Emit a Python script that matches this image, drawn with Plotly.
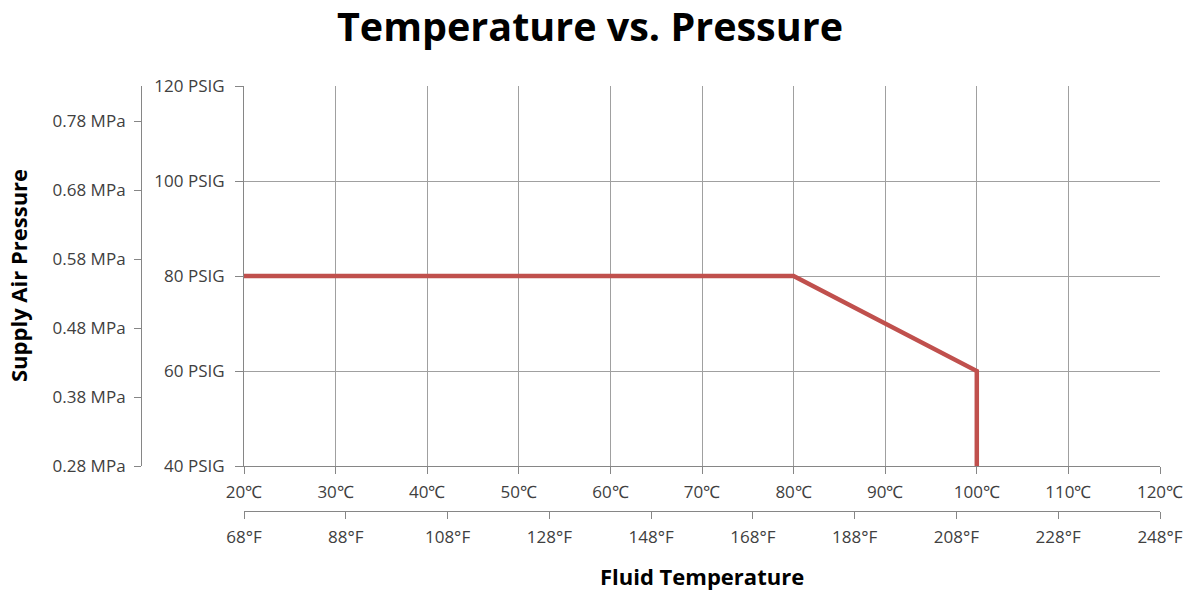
import plotly.graph_objects as go

# Data
temp_c = [20, 80, 100, 100]
pressure_psig = [80, 80, 60, 40]

c_ticks = [20, 30, 40, 50, 60, 70, 80, 90, 100, 110, 120]
c_labels = [f"{v}℃" for v in c_ticks]
f_ticks = [68, 88, 108, 128, 148, 168, 188, 208, 228, 248]
f_labels = [f"{v}°F" for v in f_ticks]
psig_ticks = [40, 60, 80, 100, 120]
psig_labels = [f"{v} PSIG" for v in psig_ticks]
mpa_ticks = [0.28, 0.38, 0.48, 0.58, 0.68, 0.78]
mpa_labels = [f"{v:.2f} MPa" for v in mpa_ticks]

W, H = 1195, 590
ml, mr, mt, mb = 141, 35, 86, 50
pw = W - ml - mr
ph = H - mt - mb
x0 = (244 - ml) / pw
y0 = (H - mb - 466) / ph
yf = (H - mb - 511) / ph

FONT = "Open Sans, Lato, sans-serif"
tick_font = dict(family=FONT, size=17, color="#404040")
axis_col = "#868686"
grid_col = "#a0a0a0"

fig = go.Figure()
fig.add_trace(go.Scatter(x=temp_c, y=pressure_psig, mode="lines",
                         line=dict(color="#C0504D", width=4.5), showlegend=False,
                         xaxis="x", yaxis="y"))
# invisible traces to activate secondary axes
fig.add_trace(go.Scatter(x=[f_ticks[0], f_ticks[-1]], y=[40, 40], mode="lines",
                         line=dict(width=0), showlegend=False, hoverinfo="skip",
                         xaxis="x2", yaxis="y"))
fig.add_trace(go.Scatter(x=[20, 120], y=[0.28, 0.28], mode="lines",
                         line=dict(width=0), showlegend=False, hoverinfo="skip",
                         xaxis="x", yaxis="y2"))

fig.update_layout(
    width=W, height=H,
    margin=dict(l=ml, r=mr, t=mt, b=mb, autoexpand=False),
    paper_bgcolor="white", plot_bgcolor="white",
    title=dict(text="<b>Temperature vs. Pressure</b>", x=(590 - ml) / pw, xref="paper",
               xanchor="center", y=1 - 27 / H, yanchor="middle",
               font=dict(family=FONT, size=39.5, color="#000000")),
    xaxis=dict(domain=[x0, 1], range=[20, 120], tickvals=c_ticks, ticktext=c_labels,
               showgrid=True, gridcolor=grid_col, gridwidth=1,
               showline=True, linecolor=axis_col, linewidth=1,
               ticks="outside", ticklen=7, tickcolor=axis_col, ticklabelstandoff=4,
               tickfont=tick_font, zeroline=False, anchor="y", mirror=False),
    xaxis2=dict(overlaying="x", anchor="free", position=yf, side="bottom",
                domain=[x0, 1], range=[68, 248], tickvals=f_ticks, ticktext=f_labels,
                showgrid=False, showline=True, linecolor=axis_col, linewidth=1,
                ticks="outside", ticklen=7, tickcolor=axis_col, ticklabelstandoff=4,
                tickfont=tick_font, zeroline=False),
    yaxis=dict(domain=[y0, 1], range=[40, 120], tickvals=psig_ticks, ticktext=psig_labels,
               showgrid=True, gridcolor=grid_col, gridwidth=1,
               showline=True, linecolor=axis_col, linewidth=1,
               ticks="outside", ticklen=8, tickcolor=axis_col, ticklabelstandoff=7,
               tickfont=tick_font, zeroline=False, anchor="x"),
    yaxis2=dict(overlaying="y", anchor="free", position=0, side="left",
                range=[0.28, 0.28 + 0.1 * 380 / 69], tickvals=mpa_ticks, ticktext=mpa_labels,
                showgrid=False, showline=True, linecolor=axis_col, linewidth=1,
                ticks="outside", ticklen=7, tickcolor=axis_col, ticklabelstandoff=5,
                tickfont=tick_font, zeroline=False),
    annotations=[
        dict(text="<b>Supply Air Pressure</b>", xref="paper", yref="paper",
             x=(18 - ml) / pw, y=(H - mb - 276) / ph, textangle=-90,
             showarrow=False, xanchor="center", yanchor="middle",
             font=dict(family=FONT, size=22, color="#000000")),
        dict(text="<b>Fluid Temperature</b>", xref="paper", yref="paper",
             x=(702 - ml) / pw, y=(H - mb - 576) / ph,
             showarrow=False, xanchor="center", yanchor="middle",
             font=dict(family=FONT, size=22, color="#000000")),
    ],
)

fig.write_html("out.html", config={"displayModeBar": False},
               post_script="document.body.style.margin='0';")
